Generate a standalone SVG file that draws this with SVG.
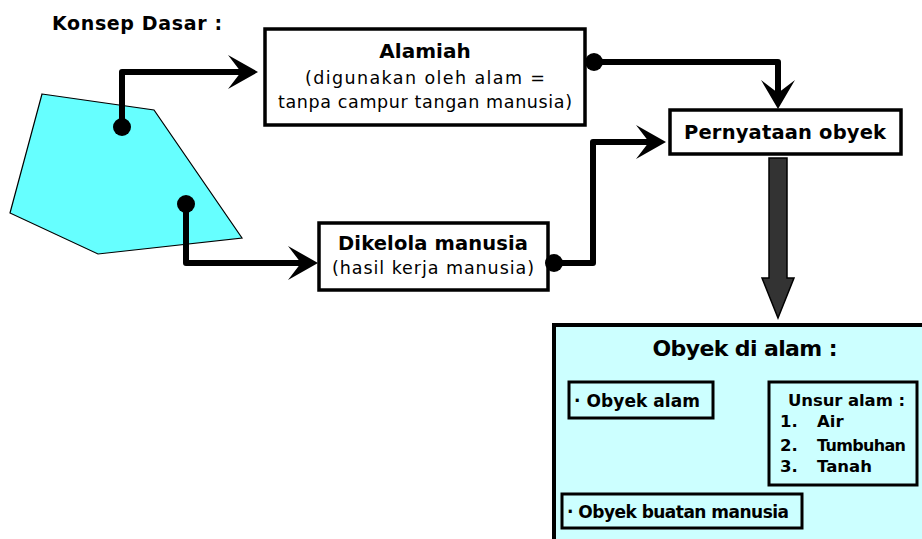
<svg xmlns="http://www.w3.org/2000/svg" width="922" height="539" viewBox="0 0 922 539">
<defs>
<style>
text{font-family:"DejaVu Sans","Liberation Sans",sans-serif;fill:#000}
.b{font-weight:bold}
.box{fill:#fff;stroke:#000;stroke-width:3.5}
.ibox{fill:none;stroke:#000;stroke-width:3}
.wire{fill:none;stroke:#000;stroke-width:6;stroke-linejoin:round}
.dot{fill:#000}
.head{fill:#000}
</style>
</defs>
<rect width="922" height="539" fill="#fff"/>
<text class="b" x="52" y="30" font-size="19" textLength="170">Konsep Dasar :</text>
<g id="shape">
<polygon points="42,94 154,110 242,238 98,254 10,213" fill="#66FFFF" stroke="#000" stroke-width="1.2"/>
</g>
<g id="alamiah">
<rect class="box" x="265" y="29" width="320" height="96"/>
<text class="b" x="425" y="58" font-size="20" text-anchor="middle">Alamiah</text>
<text x="425" y="84" font-size="17.5" text-anchor="middle" textLength="240">(digunakan oleh alam =</text>
<text x="425" y="108" font-size="17.5" text-anchor="middle" textLength="294">tanpa campur tangan manusia)</text>
</g>
<g id="dikelola">
<rect class="box" x="319" y="223" width="229" height="67"/>
<text class="b" x="433" y="250" font-size="19.5" text-anchor="middle" textLength="190">Dikelola manusia</text>
<text x="433" y="274" font-size="17.5" text-anchor="middle" textLength="202">(hasil kerja manusia)</text>
</g>
<g id="pernyataan">
<rect class="box" x="670" y="110" width="231" height="44"/>
<text class="b" x="785" y="139" font-size="19.5" text-anchor="middle" textLength="202">Pernyataan obyek</text>
</g>
<g id="obyek-di-alam">
<rect x="554" y="325" width="372" height="220" fill="#CCFFFF" stroke="#000" stroke-width="4"/>
<text class="b" x="745" y="356" font-size="22" text-anchor="middle" textLength="185">Obyek di alam :</text>
<rect class="ibox" x="569" y="382" width="144" height="36"/>
<text class="b" x="574" y="407" font-size="17" textLength="126">· Obyek alam</text>
<rect class="ibox" x="769" y="382" width="148" height="103"/>
<text class="b" x="788" y="406" font-size="16.5" textLength="117">Unsur alam :</text>
<text class="b" x="780" y="427" font-size="16.5">1.</text>
<text class="b" x="817" y="427" font-size="16.5">Air</text>
<text class="b" x="780" y="451" font-size="16.5">2.</text>
<text class="b" x="817" y="451" font-size="16" textLength="89">Tumbuhan</text>
<text class="b" x="780" y="472" font-size="16.5">3.</text>
<text class="b" x="817" y="472" font-size="16.5">Tanah</text>
<rect class="ibox" x="562" y="494" width="240" height="34"/>
<text class="b" x="567" y="518" font-size="17" textLength="222">· Obyek buatan manusia</text>
</g>
<g id="connectors">
<circle class="dot" cx="122" cy="127" r="9"/>
<polyline class="wire" points="122,127 122,72 244,72"/>
<polygon class="head" points="258,72 228,55 241,72 228,89"/>
<circle class="dot" cx="186" cy="204" r="9"/>
<polyline class="wire" points="186,204 186,263 304,263"/>
<polygon class="head" points="318,263 288,246 301,263 288,280"/>
<circle class="dot" cx="594" cy="62" r="9"/>
<polyline class="wire" points="594,62 778,62 778,95"/>
<polygon class="head" points="778,109 761,80 778,93 795,80"/>
<circle class="dot" cx="554" cy="263" r="9"/>
<polyline class="wire" points="554,263 593,263 593,142 652,142"/>
<polygon class="head" points="666,142 636,125 649,142 636,159"/>
<polygon points="769,158 787,158 787,278 794,278 778,318 762,278 769,278" fill="#333" stroke="#000" stroke-width="1.5"/>
</g>
</svg>
